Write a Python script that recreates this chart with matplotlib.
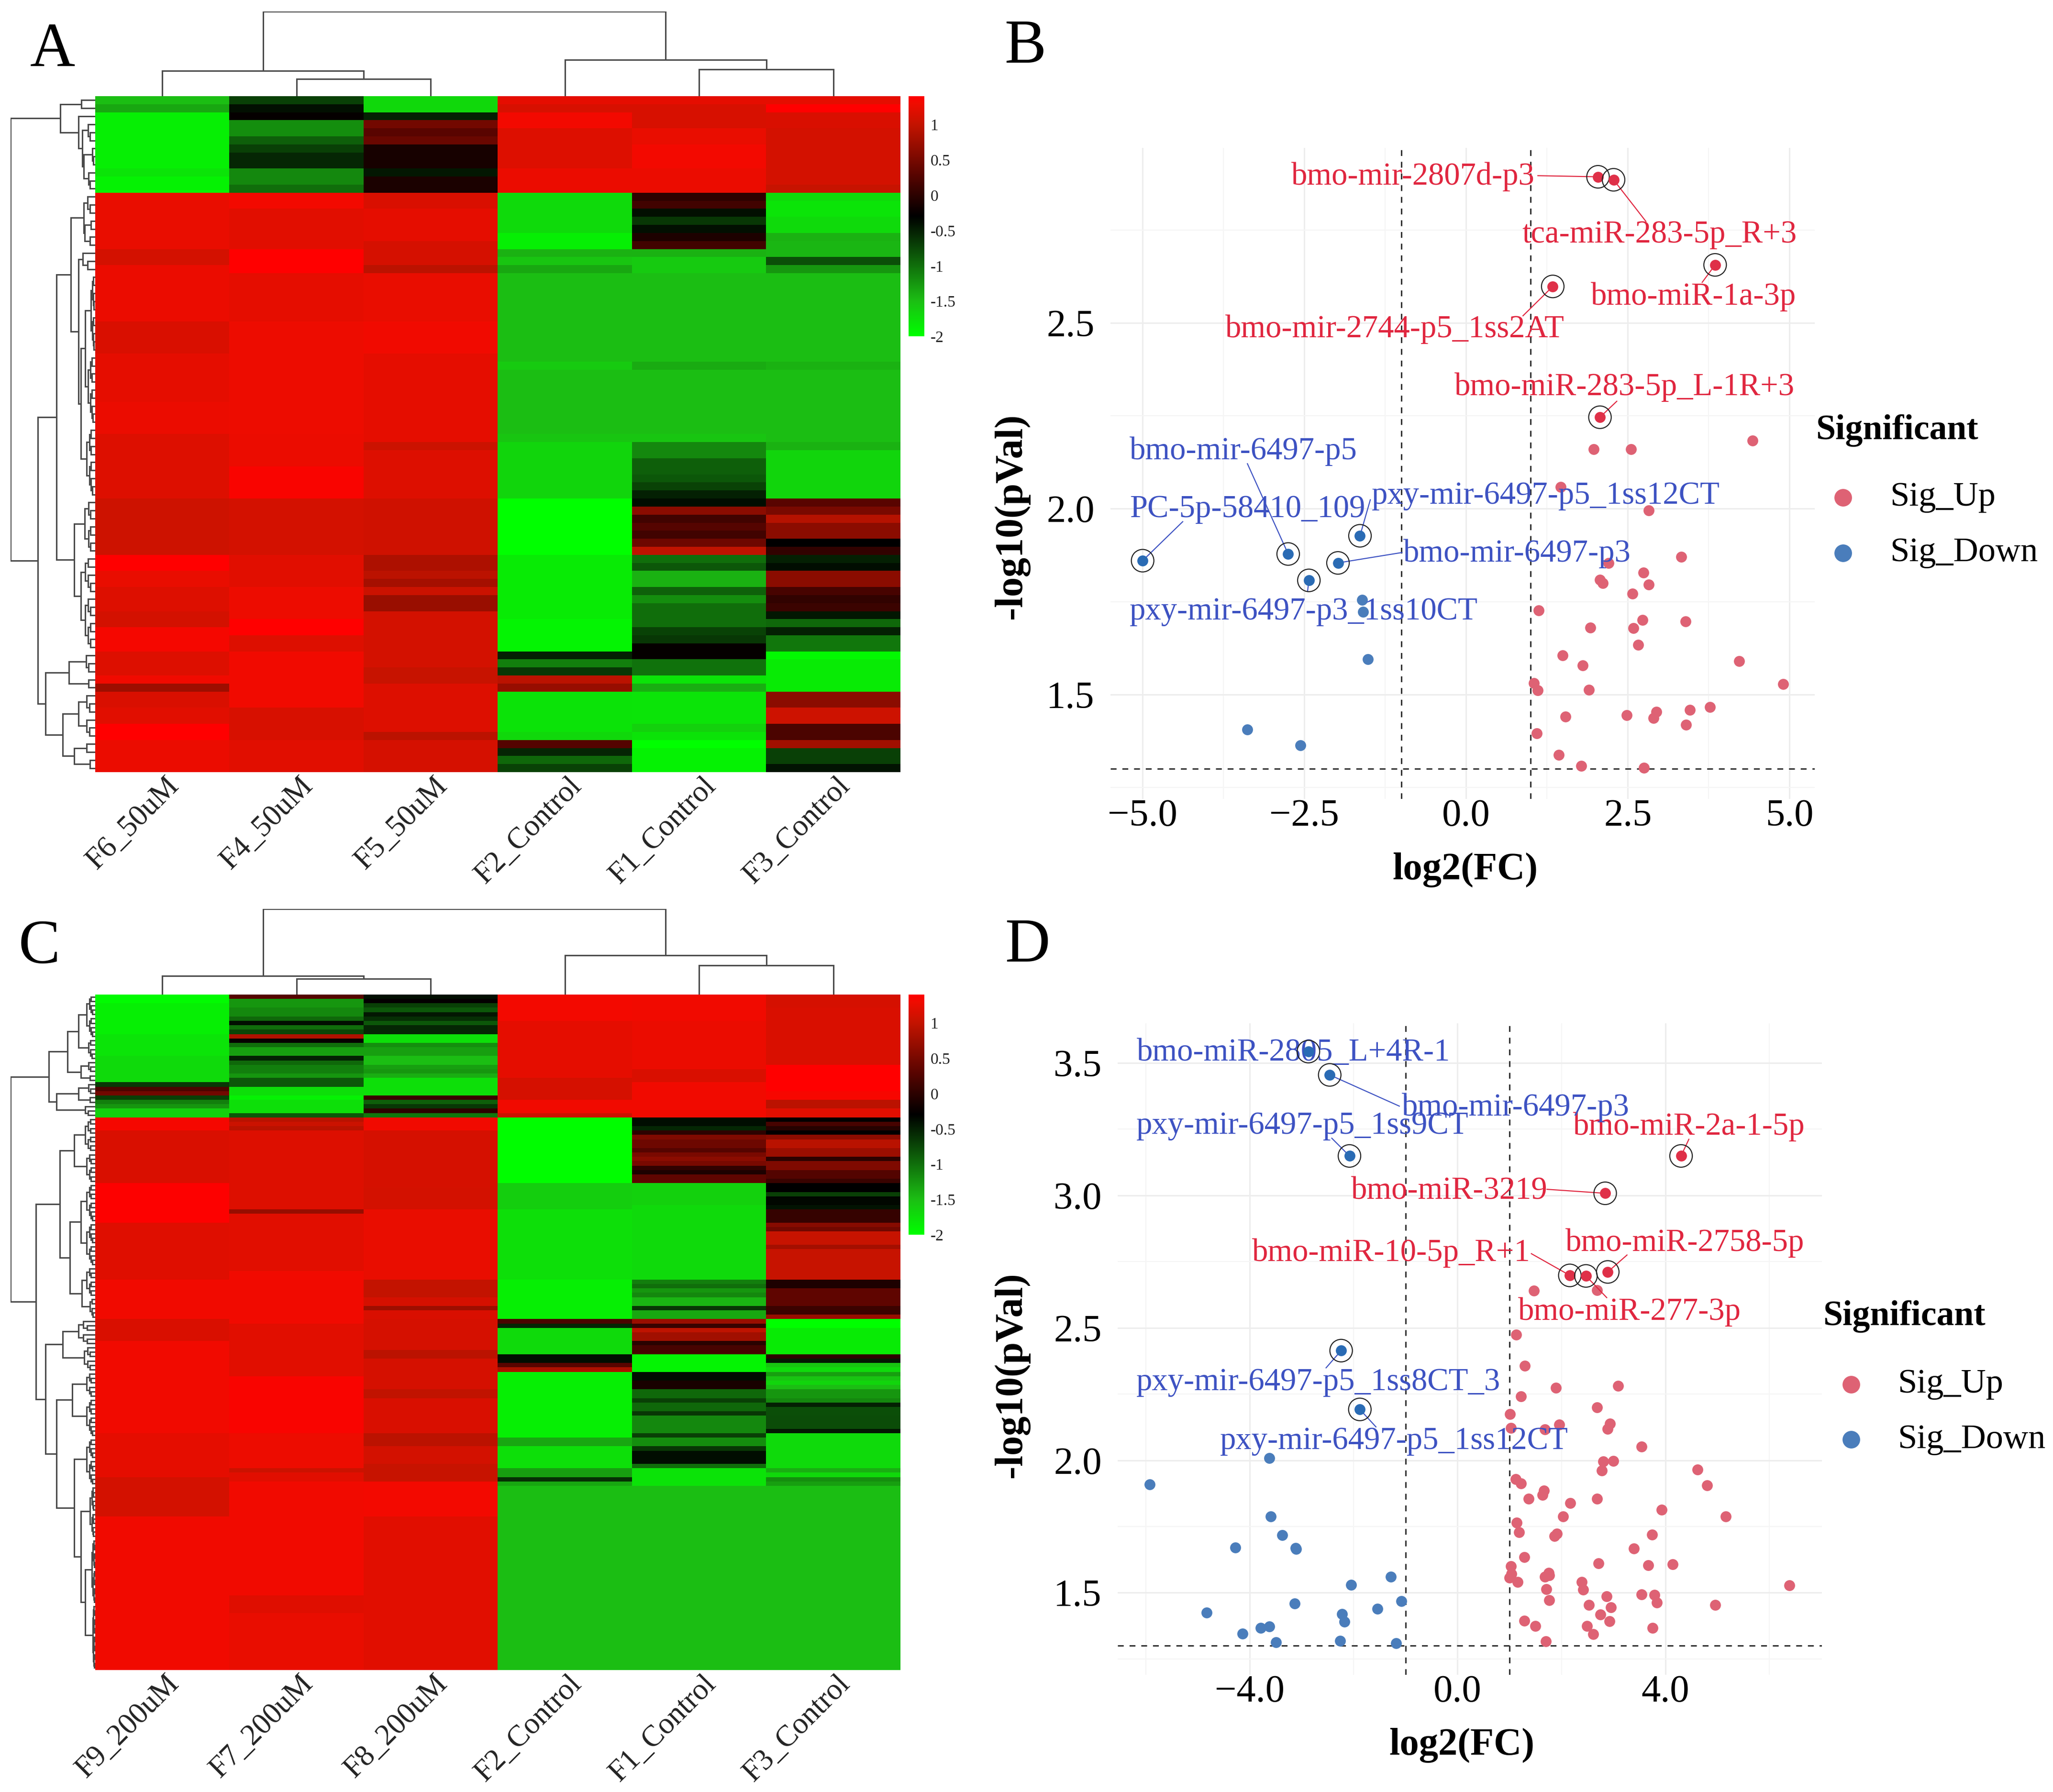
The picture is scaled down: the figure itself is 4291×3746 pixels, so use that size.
import numpy as np
import matplotlib
matplotlib.use('Agg')
import matplotlib.pyplot as plt
from matplotlib.colors import LinearSegmentedColormap
from matplotlib.lines import Line2D

plt.rcParams['font.family'] = ['Liberation Serif', 'DejaVu Serif']

W = 4291
H = 3746

### heatmap A, each column is (row where the run ends, value)
a_rows = 84
a_f6 = [(1,-1.5),(2,-1.35),(9,-1.88),(10,-1.8),(12,-1.9),(19,1.25),(21,1.1),(28,1.27),(32,1.15),(38,1.22),(42,1.27),
        (50,1.17),(57,1.07),(59,1.4),(61,1.25),(64,1.17),(66,1.1),(69,1.33),(72,1.17),(73,1.3),(74,0.75),(76,1.15),
        (78,1.2),(80,1.4),(84,1.27)]
a_f4 = [(1,-0.7),(2,-0.4),(3,-0.27),(5,-1.2),(6,-0.9),(7,-0.7),(9,-0.55),(11,-1.15),(12,-1.0),(14,1.32),(19,1.2),
        (22,1.4),(28,1.22),(42,1.28),(46,1.26),(50,1.36),(57,1.1),(61,1.2),(65,1.28),(67,1.4),(69,1.17),(73,1.3),
        (76,1.3),(80,1.13),(84,1.2)]
a_f5 = [(2,-1.7),(3,-0.5),(4,0.47),(5,0.3),(6,0.4),(9,-0.15),(10,-0.45),(12,-0.12),(14,1.15),(18,1.22),(21,1.12),
        (22,0.95),(28,1.25),(32,1.3),(43,1.22),(44,1.05),(50,1.17),(57,1.08),(59,0.85),(60,0.95),(61,0.8),(62,1.05),
        (64,0.72),(71,1.1),(73,1.03),(79,1.17),(80,0.95),(84,1.12)]
a_f2 = [(1,1.23),(2,1.13),(4,1.32),(9,1.17),(12,1.27),(17,-1.72),(19,-1.88),(20,-1.42),(21,-1.55),(22,-1.35),
        (33,-1.5),(34,-1.6),(42,-1.5),(43,-1.55),(50,-1.68),(57,-2.0),(65,-1.85),(69,-1.92),(70,-0.5),(71,-1.1),
        (72,-0.65),(73,0.95),(74,0.7),(79,-1.78),(80,-1.7),(81,0.27),(82,-0.55),(83,-0.95),(84,-0.72)]
a_f1 = [(1,1.23),(4,1.13),(6,1.25),(9,1.32),(12,1.27),(13,0.0),(14,0.13),(15,-0.4),(16,-0.65),(17,-0.4),(18,-0.1),
        (19,0.13),(20,-1.42),(22,-1.6),(33,-1.5),(34,-1.38),(42,-1.5),(43,-1.55),(45,-1.15),(47,-0.9),(48,-0.85),
        (49,-0.72),(50,-0.5),(51,-0.38),(52,0.63),(53,0.13),(54,0.27),(55,0.13),(56,0.43),(57,0.97),(58,-1.0),
        (59,-0.85),(61,-1.42),(62,-0.92),(63,-1.2),(66,-1.0),(67,-0.72),(68,-0.65),(70,-0.27),(72,-1.02),(73,-1.8),
        (74,-1.4),(78,-1.8),(79,-1.65),(80,-1.78),(81,-2.0),(84,-1.9)]
a_f3 = [(1,1.23),(2,1.4),(4,1.15),(11,1.1),(12,1.03),(13,-1.72),(15,-1.8),(17,-1.72),(18,-1.42),(20,-1.45),(21,-0.8),
        (22,-1.25),(33,-1.5),(34,-1.42),(43,-1.5),(44,-1.42),(50,-1.68),(51,0.3),(52,0.5),(53,0.9),(55,0.63),(56,-0.3),
        (57,0.03),(58,-0.5),(59,-0.38),(61,0.63),(62,0.17),(63,0.03),(64,0.1),(65,-0.45),(66,-0.95),(67,-0.5),(69,-1.05),
        (70,-1.95),(74,-1.85),(76,0.63),(78,1.07),(80,0.2),(81,0.77),(83,-0.7),(84,-0.42)]
a_names = ['F6_50uM', 'F4_50uM', 'F5_50uM', 'F2_Control', 'F1_Control', 'F3_Control']

### heatmap C
c_rows = 154
c_f9 = [(2,-1.97),(9,-1.88),(14,-1.8),(20,-1.72),(21,-0.65),(22,0.2),(23,0.45),(24,-0.7),(25,-1.1),(26,-1.25),(28,-1.65),
        (31,1.33),(43,1.15),(52,1.38),(65,1.18),(74,1.3),(79,1.15),(100,1.3),(110,1.22),(119,1.1),(154,1.3)]
c_f7 = [(1,0.27),(3,-1.25),(5,-1.15),(6,-0.95),(7,-0.4),(8,-1.0),(9,-0.75),(10,0.87),(11,-0.27),(12,-1.0),(14,-1.3),
        (15,-0.5),(16,-0.95),(18,-1.1),(19,-1.25),(21,-0.85),(23,-1.75),(24,-1.9),(27,-1.75),(28,-0.85),(29,0.93),
        (30,1.05),(31,0.93),(49,1.17),(50,0.7),(63,1.2),(75,1.3),(87,1.2),(100,1.36),(108,1.28),(109,1.05),(111,1.2),
        (137,1.3),(141,1.18),(154,1.25)]
c_f8 = [(1,-0.4),(2,-0.28),(3,-0.7),(4,-0.85),(5,-0.45),(6,-0.6),(7,-0.85),(9,-0.55),(11,-1.75),(12,-1.2),(14,-1.3),
        (16,-1.5),(17,-1.3),(18,-1.25),(19,-1.4),(23,-1.75),(24,0.08),(25,-0.9),(26,-0.65),(27,0.0),(28,-1.05),(31,1.3),
        (44,1.12),(49,1.1),(65,1.25),(69,1.0),(71,1.12),(72,0.75),(74,1.15),(81,1.12),(83,0.95),(90,1.12),(92,0.98),
        (100,1.15),(103,0.95),(107,1.1),(111,1.03),(119,1.32),(154,1.2)]
c_f2 = [(6,1.32),(19,1.22),(24,1.12),(27,1.3),(28,1.05),(43,-1.98),(49,-1.62),(65,-1.75),(74,-1.88),(75,0.2),(76,-0.55),
        (82,-1.72),(84,-0.38),(85,0.3),(86,0.85),(101,-1.88),(103,-1.35),(108,-1.75),(110,-1.3),(111,-0.6),(112,-1.35),
        (154,-1.5)]
c_f1 = [(6,1.3),(17,1.27),(20,1.15),(28,1.3),(30,-0.38),(31,-0.55),(32,0.0),(33,0.55),(35,0.43),(36,0.27),(37,0.5),
        (38,0.63),(39,0.5),(40,0.03),(41,-0.1),(43,0.33),(48,-1.65),(65,-1.72),(66,-1.1),(67,-1.0),(68,-1.25),(69,-1.15),
        (71,-1.45),(72,-0.65),(74,-1.35),(75,0.73),(76,0.08),(77,0.97),(79,0.77),(80,-0.03),(82,0.17),(86,-1.92),
        (88,-0.38),(90,-0.13),(92,-0.95),(93,-0.7),(95,-0.95),(96,-0.65),(100,-1.15),(101,-0.7),(103,-1.2),(104,-0.65),
        (107,-0.38),(108,-1.0),(112,-1.78),(154,-1.5)]
c_f3 = [(3,1.12),(16,1.15),(22,1.4),(24,1.35),(26,0.95),(28,1.2),(29,-0.3),(30,0.17),(31,-0.05),(32,-0.3),(33,0.63),
        (35,0.93),(37,0.75),(38,0.0),(40,0.55),(42,0.25),(43,0.08),(45,-0.3),(46,-0.7),(48,-0.35),(49,-0.42),(52,0.05),
        (53,0.6),(54,0.45),(57,1.03),(58,0.78),(65,1.03),(67,-0.1),(71,0.33),(73,0.1),(74,0.72),(76,-2.0),(82,-1.85),
        (83,0.0),(84,-0.45),(85,-1.55),(86,-1.72),(87,-1.3),(88,-1.55),(89,-1.68),(90,-1.5),(92,-1.25),(93,-1.15),
        (94,-0.5),(96,-0.8),(99,-0.78),(100,-0.45),(108,-1.72),(109,-1.4),(110,-1.7),(111,-1.2),(112,-1.3),(154,-1.5)]
c_names = ['F9_200uM', 'F7_200uM', 'F8_200uM', 'F2_Control', 'F1_Control', 'F3_Control']

### dendrograms: [height, child, child], 1 is a leaf, [height, n] is a tight group of n leaves
a_col_tree = [1.0, [0.30, 1, [0.205, 1, 1]], [0.43, 1, [0.315, 1, 1]]]
c_col_tree = [1.0, [0.22, 1, [0.187, 1, 1]], [0.46, 1, [0.34, 1, 1]]]
a_row_tree = [1.0,
    [0.41, [0.165, 1, 1], [0.20, 1, [0.15, [0.083, 1, [0.06, 1, 1]],
                                     [0.136, [0.036, 1, [0.02, 1, 1]], [0.08, 1, [0.06, 1, 1]]]]]],
    [0.68,
     [0.457,
      [0.287, [0.136, [0.09, 1, [0.06, 1, 1]], [0.125, [0.05, 1, 1], [0.06, 1, 1]]],
              [0.20, [0.145, 1, [0.09, 1, 1]], [0.168, [0.117, [0.05, 10], [0.083, 9]], [0.1, 9]]]],
      [0.25, [0.125, [0.08, 3], [0.08, 4]], [0.17, [0.12, 5], [0.12, 7]]]],
     [0.59, [0.31, [0.11, 3], [0.08, 2]],
      [0.385, [0.2, [0.1, 3], [0.1, 3]], [0.25, [0.1, 2], [0.06, 2]]]]]]
c_row_tree = [1.0,
    [0.55, [0.33, [0.2, [0.1, 10], [0.08, 5]], [0.17, [0.08, 3], [0.06, 2]]],
           [0.46, [0.2, [0.08, 3], [0.06, 2]], [0.12, 3]]],
    [0.70,
     [0.42, [0.25, [0.12, 8], [0.1, 7]], [0.3, [0.17, [0.1, 9], [0.1, 10]], [0.16, [0.1, 7], [0.06, 5]]]],
     [0.59, [0.385, [0.2, 6], [0.13, 6]],
      [0.46, [0.27, [0.1, 6], [0.1, 9]],
       [0.25, [0.1, 11], [0.17, [0.06, 12], [0.12, [0.04, 15], [0.03, 15]]]]]]]]

### volcano B
b_up_x = [1.97, 2.55, 4.43, 1.46, 2.82, 3.33, 2.2, 2.74, 2.07, 2.11, 2.82, 2.57, 1.12, 2.73, 3.39, 1.92, 2.59, 2.66, 1.49,
          4.22, 1.80, 1.05, 1.11, 1.90, 4.90, 3.77, 3.46, 2.94, 2.90, 2.48, 1.54, 3.40, 1.09, 1.43, 1.78, 2.75]
b_up_y = [2.16, 2.16, 2.183, 2.058, 1.995, 1.87, 1.853, 1.828, 1.809, 1.80, 1.796, 1.771, 1.726, 1.70, 1.697, 1.68, 1.678,
          1.634, 1.605, 1.59, 1.578, 1.531, 1.511, 1.512, 1.528, 1.466, 1.458, 1.453, 1.436, 1.444, 1.441, 1.419, 1.395,
          1.338, 1.308, 1.303]
b_down_x = [-1.61, -1.59, -1.52, -3.38, -2.56]
b_down_y = [1.754, 1.722, 1.595, 1.406, 1.363]
# name, text left, text y, line start x, line start y, point x, point y
b_up_labels = [('bmo-mir-2807d-p3', -2.70, 2.893, 1.11, 2.896, 2.04, 2.893),
               ('tca-miR-283-5p_R+3', 0.87, 2.737, 2.78, 2.773, 2.28, 2.885),
               ('bmo-miR-1a-3p', 1.93, 2.570, 3.65, 2.609, 3.85, 2.656),
               ('bmo-mir-2744-p5_1ss2AT', -3.72, 2.483, 0.88, 2.519, 1.34, 2.598),
               ('bmo-miR-283-5p_L-1R+3', -0.18, 2.327, 2.33, 2.289, 2.07, 2.246)]
b_down_labels = [('bmo-mir-6497-p5', -5.2, 2.155, -3.38, 2.121, -2.75, 1.878),
                 ('PC-5p-58410_109', -5.2, 1.999, -4.38, 1.965, -5.0, 1.860),
                 ('pxy-mir-6497-p5_1ss12CT', -1.46, 2.035, -1.48, 2.024, -1.64, 1.927),
                 ('bmo-mir-6497-p3', -0.97, 1.879, -0.99, 1.882, -1.98, 1.854),
                 ('pxy-mir-6497-p3_1ss10CT', -5.2, 1.723, -2.45, 1.778, -2.43, 1.807)]

### volcano D
d_up_x = [2.68, 1.47, 1.13, 1.29, 3.09, 1.89, 1.22, 2.68, 1.01, 1.03, 1.96, 1.68, 2.93, 2.89, 3.54, 3.00, 2.80, 2.78, 4.62,
          1.12, 1.22, 4.80, 1.66, 1.63, 1.37, 2.68, 2.17, 3.93, 2.03, 5.16, 1.14, 1.18, 1.91, 1.86, 3.74, 3.39, 1.28, 2.71,
          3.67, 4.14, 1.03, 1.04, 1.0, 1.16, 1.75, 1.76, 1.68, 2.39, 2.42, 1.71, 6.38, 3.54, 3.79, 2.87, 1.76, 3.83, 2.53,
          2.95, 4.96, 2.75, 1.28, 2.92, 1.50, 2.49, 3.75, 2.61, 1.70]
d_up_y = [2.642, 2.640, 2.474, 2.356, 2.281, 2.274, 2.242, 2.199, 2.175, 2.122, 2.134, 2.117, 2.139, 2.119, 2.051, 1.997,
          1.995, 1.962, 1.965, 1.928, 1.913, 1.906, 1.885, 1.870, 1.855, 1.855, 1.838, 1.814, 1.788, 1.788, 1.765, 1.728,
          1.722, 1.713, 1.719, 1.666, 1.635, 1.61, 1.603, 1.608, 1.60, 1.571, 1.556, 1.541, 1.575, 1.565, 1.56, 1.541,
          1.511, 1.513, 1.528, 1.494, 1.491, 1.487, 1.472, 1.463, 1.453, 1.444, 1.453, 1.418, 1.395, 1.392, 1.375, 1.375,
          1.367, 1.343, 1.317]
d_down_x = [-3.62, -5.92, -3.59, -3.37, -4.28, -3.12, -3.11, -1.28, -2.05, -3.13, -1.08, -4.83, -1.54, -2.22, -2.18, -3.62,
            -3.79, -4.14, -2.26, -3.49, -1.18]
d_down_y = [2.008, 1.909, 1.788, 1.717, 1.670, 1.668, 1.665, 1.56, 1.53, 1.459, 1.468, 1.425, 1.44, 1.42, 1.39, 1.373, 1.367,
            1.345, 1.319, 1.313, 1.309]
d_up_labels = [('bmo-miR-2a-1-5p', 2.22, 3.259, 4.45, 3.212, 4.30, 3.149),
               ('bmo-miR-3219', -2.05, 3.016, 1.72, 3.023, 2.84, 3.008),
               ('bmo-miR-2758-5p', 2.08, 2.820, 3.26, 2.775, 2.89, 2.711),
               ('bmo-miR-10-5p_R+1', -3.95, 2.782, 1.42, 2.780, 2.16, 2.698),
               ('bmo-miR-277-3p', 1.16, 2.560, 2.87, 2.614, 2.47, 2.696)]
d_down_labels = [('bmo-miR-2805_L+4R-1', -6.17, 3.539, -2.87, 3.543, -2.87, 3.543),
                 ('bmo-mir-6497-p3', -1.07, 3.332, -1.12, 3.337, -2.46, 3.455),
                 ('pxy-mir-6497-p5_1ss9CT', -6.18, 3.263, -2.42, 3.216, -2.08, 3.149),
                 ('pxy-mir-6497-p5_1ss8CT_3', -6.18, 2.294, -2.53, 2.349, -2.24, 2.414),
                 ('pxy-mir-6497-p5_1ss12CT', -4.57, 2.072, -1.57, 2.126, -1.88, 2.192)]

up_color = '#DE6274'
down_color = '#4A7DBB'
up_hit_color = '#DF3048'
down_hit_color = '#2A6BB4'
up_text_color = '#E0263F'
down_text_color = '#3D52C2'
line_color = '#4A4A4A'

heat_cmap = LinearSegmentedColormap.from_list('gbr', [(0.0, (0, 1, 0)),
                                                      (0.147, (28/255, 190/255, 20/255)),
                                                      (0.4994, (0, 0, 0)),
                                                      (0.675, (90/255, 5/255, 0)),
                                                      (0.881, (195/255, 20/255, 0)),
                                                      (0.969, (240/255, 12/255, 0)),
                                                      (1.0, (1, 0, 0))])


def px_axes(left, top, right, bottom):
    return fig.add_axes([left/W, 1-bottom/H, (right-left)/W, (bottom-top)/H])


def expand(runs):
    out = []
    start = 0
    for end, value in runs:
        out += [value]*(end-start)
        start = end
    return out


def comb(h, n):
    if n == 1:
        return 1
    return [h, comb(h*0.7, n//2), comb(h*0.7, n-n//2)]


def draw_tree(ax, node, counter, top):
    # returns leaf position and height of this node
    if node == 1:
        counter[0] += 1
        return counter[0]-0.5, 0.0
    if len(node) == 2:
        node = comb(node[0], node[1])
    h = node[0]
    p1, h1 = draw_tree(ax, node[1], counter, top)
    p2, h2 = draw_tree(ax, node[2], counter, top)
    if top:
        ax.plot([p1, p1, p2, p2], [h1, h, h, h2], color=line_color, lw=2.2, solid_joinstyle='miter')
    else:
        ax.plot([h1, h, h, h2], [p1, p1, p2, p2], color=line_color, lw=2.2, solid_joinstyle='miter')
    return (p1+p2)/2, h


def heat_panel(columns, names, col_tree, row_tree, n_rows, top, bottom, dendro_top):
    left = 199
    right = 1882
    matrix = np.array([expand(c) for c in columns]).T
    ax = px_axes(left, top, right, bottom)
    ax.imshow(matrix, cmap=heat_cmap, vmin=-2, vmax=1.404, aspect='auto', interpolation='nearest',
              extent=(0, 6, n_rows, 0))
    ax.set_yticks([])
    ax.set_xticks([])
    for s in ax.spines.values():
        s.set_visible(False)
    for i, name in enumerate(names):
        ax.annotate(name, xy=(i+0.5, 0), xycoords=('data', 'axes fraction'), xytext=(4, 0),
                    textcoords='offset points', rotation=45, ha='right', va='top', rotation_mode='anchor',
                    fontsize=45, color='#222222')

    tree_ax = px_axes(left, dendro_top, right, top)
    draw_tree(tree_ax, col_tree, [0], True)
    tree_ax.set_xlim(0, 6)
    tree_ax.set_ylim(0, 1)
    tree_ax.axis('off')

    row_ax = px_axes(22, top, left, bottom)
    draw_tree(row_ax, row_tree, [0], False)
    row_ax.set_ylim(n_rows, 0)
    row_ax.set_xlim(1, 0)
    row_ax.axis('off')

    bar = px_axes(1899, top, 1932, top+(bottom-top)*0.3556)
    bar.imshow(np.linspace(1.404, -2, 256).reshape(-1, 1), cmap=heat_cmap, vmin=-2, vmax=1.404, aspect='auto',
               extent=(0, 1, -2, 1.404))
    bar.set_xticks([])
    bar.yaxis.tick_right()
    bar.set_yticks([1, 0.5, 0, -0.5, -1, -1.5, -2], ['1', '0.5', '0', '-0.5', '-1', '-1.5', '-2'])
    bar.tick_params(axis='y', length=0, pad=9, labelsize=24, labelcolor='#222222')
    for s in bar.spines.values():
        s.set_visible(False)


def volcano_panel(rect, xlim, ylim, xticks, xminor, yticks, yminor, up, down, up_labels, down_labels):
    ax = px_axes(*rect)
    ax.set_xlim(*xlim)
    ax.set_ylim(*ylim)
    ax.set_xticks(xticks, [f'{t:.1f}'.replace('-', '\u2212') for t in xticks])
    ax.set_yticks(yticks, [f'{t:.1f}' for t in yticks])
    ax.set_xticks(xminor, minor=True)
    ax.set_yticks(yminor, minor=True)
    ax.grid(True, which='major', color='#EDEDED', lw=2.2)
    ax.grid(True, which='minor', color='#F5F5F5', lw=1.6)
    ax.set_axisbelow(True)
    ax.tick_params(which='both', length=0)
    ax.tick_params(axis='x', which='major', labelsize=58, pad=0)
    ax.tick_params(axis='y', which='major', labelsize=58, pad=24)
    for s in ax.spines.values():
        s.set_visible(False)

    ax.axvline(-1, color='#333333', ls=(0, (4, 4)), lw=2.2, zorder=2)
    ax.axvline(1, color='#333333', ls=(0, (4, 4)), lw=2.2, zorder=2)
    ax.axhline(1.3, color='#333333', ls=(0, (4, 4)), lw=2.2, zorder=2)

    ax.scatter(up[0], up[1], s=270, color=up_color, lw=0, zorder=3)
    ax.scatter(down[0], down[1], s=270, color=down_color, lw=0, zorder=3)

    for labels, text_color, hit_color in ((up_labels, up_text_color, up_hit_color),
                                          (down_labels, down_text_color, down_hit_color)):
        for name, tx, ty, lx, ly, px, py in labels:
            ax.text(tx, ty, name, color=text_color, fontsize=48, ha='left', va='center', zorder=4)
            ax.plot([lx, px], [ly, py], color=text_color, lw=1.6, zorder=4)
            ax.scatter([px], [py], s=270, color=hit_color, lw=0, zorder=5)
            ax.scatter([px], [py], s=1150, facecolor='none', edgecolor='#222222', lw=1.6, zorder=5)
    return ax


def px_text(x, y, s, **kw):
    fig.text(x/W, 1-y/H, s, **kw)


def legend_px(title_x, title_y, marker_x, text_x, y1, y2):
    px_text(title_x, title_y, 'Significant', fontsize=53, fontweight='bold', ha='left', va='center')
    fig.add_artist(Line2D([marker_x/W], [1-y1/H], marker='o', ms=26.5, color=up_color, mew=0, ls=''))
    fig.add_artist(Line2D([marker_x/W], [1-y2/H], marker='o', ms=26.5, color=down_color, mew=0, ls=''))
    px_text(text_x, y1, 'Sig_Up', fontsize=52, ha='left', va='center')
    px_text(text_x, y2, 'Sig_Down', fontsize=52, ha='left', va='center')


fig = plt.figure(figsize=(W/100, H/100), dpi=100, facecolor='white')

heat_panel([a_f6, a_f4, a_f5, a_f2, a_f1, a_f3], a_names, a_col_tree, a_row_tree, a_rows, 201, 1614, 24)
heat_panel([c_f9, c_f7, c_f8, c_f2, c_f1, c_f3], c_names, c_col_tree, c_row_tree, c_rows, 2079, 3491, 1900)

volcano_panel((2321, 309, 3793, 1670), (-5.497, 5.39), (1.219, 2.971), [-5.0, -2.5, 0.0, 2.5, 5.0],
              [-3.75, -1.25, 1.25, 3.75], [1.5, 2.0, 2.5], [1.25, 1.75, 2.25, 2.75],
              (b_up_x, b_up_y), (b_down_x, b_down_y), b_up_labels, b_down_labels)
volcano_panel((2336, 2139, 3808, 3501), (-6.54, 7.01), (1.19, 3.65), [-4.0, 0.0, 4.0],
              [-6.0, -2.0, 2.0, 6.0], [1.5, 2.0, 2.5, 3.0, 3.5], [1.25, 1.75, 2.25, 2.75, 3.25],
              (d_up_x, d_up_y), (d_down_x, d_down_y), d_up_labels, d_down_labels)

px_text(3062, 1818, 'log2(FC)', fontsize=58, fontweight='bold', ha='center', va='center')
px_text(2114, 1079, '-log10(pVal)', fontsize=59, fontweight='bold', ha='center', va='center', rotation=90)
px_text(3055, 3648, 'log2(FC)', fontsize=58, fontweight='bold', ha='center', va='center')
px_text(2114, 2874, '-log10(pVal)', fontsize=59, fontweight='bold', ha='center', va='center', rotation=90)

legend_px(3795, 900, 3852, 3950, 1040, 1156)
legend_px(3810, 2752, 3869, 3966, 2894, 3009)

px_text(110, 106, 'A', fontsize=94, ha='center', va='center')
px_text(2143, 99, 'B', fontsize=94, ha='center', va='center')
px_text(82, 1981, 'C', fontsize=94, ha='center', va='center')
px_text(2147, 1978, 'D', fontsize=94, ha='center', va='center')

fig.savefig('out.png', dpi=100)
